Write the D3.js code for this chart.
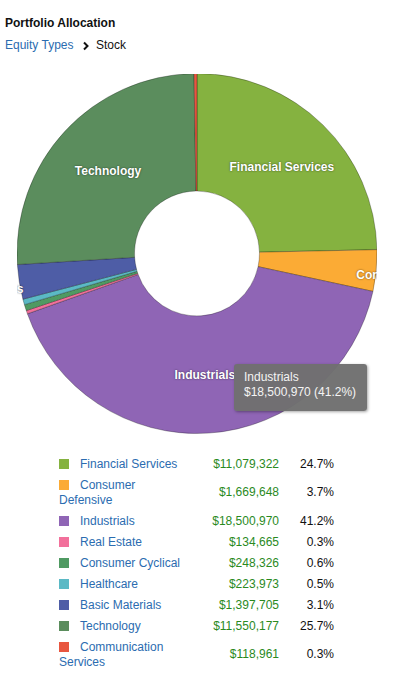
<!DOCTYPE html>
<html>
<head>
<meta charset="utf-8">
<script src="https://cdn.jsdelivr.net/npm/d3@7"></script>
<style>
  html, body { margin: 0; padding: 0; background: #fff; }
  body { width: 394px; height: 689px; position: relative; overflow: hidden;
         font-family: "Liberation Sans", Arial, Helvetica, sans-serif; font-size: 12px; color: #222; }
  #title { position: absolute; left: 5px; top: 15.5px; font-weight: bold; line-height: 14px; color: #111; }
  #crumb { position: absolute; left: 5px; top: 37.5px; line-height: 14px; white-space: nowrap; }
  #crumb .link { color: #2b6cb0; }
  #crumb svg { position: absolute; left: 77px; top: 3px; }
  #crumb .cur { position: absolute; left: 91px; top: 0; color: #111; }
  #chart { position: absolute; left: 17px; top: 74px; }
  #tip { position: absolute; left: 234px; top: 364px; width: 133px; height: 47px; box-sizing: border-box;
         padding: 6px 10px; background: rgba(112,112,112,0.97); color: #f4f4f4; border-radius: 3px;
         line-height: 15px; box-shadow: 1px 1px 3px rgba(0,0,0,0.35); white-space: nowrap; }
  #legend { position: absolute; left: 59px; top: 453.5px; border-collapse: collapse; table-layout: fixed; }
  #legend td { padding: 3px 0; line-height: 15px; vertical-align: middle; }
  #legend td.name { width: 124px; color: #2b6cb0; }
  #legend td.val { width: 96px; text-align: right; color: #2a8a1e; }
  #legend td.pct { width: 55px; text-align: right; color: #111; }
  #legend .sw { display: inline-block; width: 10px; height: 10px; margin-right: 11px; vertical-align: -1px; }
</style>
</head>
<body>
<div id="title">Portfolio Allocation</div>
<div id="crumb"><span class="link">Equity Types</span>
  <svg width="8" height="10"><polyline points="2,1.5 5.5,5 2,8.5" fill="none" stroke="#111" stroke-width="2"/></svg>
  <span class="cur">Stock</span></div>
<svg id="chart" width="360" height="360"></svg>
<div id="tip"></div>
<table id="legend"><tbody></tbody></table>
<script>
const categories = ["Financial Services", "Consumer Defensive", "Industrials", "Real Estate",
  "Consumer Cyclical", "Healthcare", "Basic Materials", "Technology", "Communication Services"];
const values = [11079322, 1669648, 18500970, 134665, 248326, 223973, 1397705, 11550177, 118961];
const colors = ["#85b240", "#fbab35", "#8f65b5", "#f2709b", "#4f9a62", "#5bb9c5", "#4e5da6", "#5b8d5d", "#e8563f"];
const hovered = "Industrials";

const total = d3.sum(values);
const data = categories.map((c, i) => ({ name: c, value: values[i], color: colors[i], share: values[i] / total }));
const money = v => "$" + d3.format(",")(v);
const pct = s => d3.format(".1%")(s);

const W = 360, H = 360, R = 180, r0 = 62.5;
const svg = d3.select("#chart");
const g = svg.append("g").attr("transform", `translate(${W / 2},${H / 2 - 0.5})`);

const pie = d3.pie().sort(null).value(d => d.value);
const arc = d3.arc().innerRadius(r0).outerRadius(R);
const outerLabelArc = d3.arc().innerRadius(220).outerRadius(220);
const arcs = pie(data);

g.selectAll("path").data(arcs).join("path")
  .attr("d", arc)
  .attr("fill", d => d.data.color)
  .attr("stroke", "rgba(0,0,0,0.35)")
  .attr("stroke-width", 0.8)
  .attr("stroke-linejoin", "round");

g.selectAll("text").data(arcs.filter(d => d.data.share >= 0.01)).join("text")
  .attr("transform", d => `translate(${(d.data.share >= 0.1 ? arc : outerLabelArc).centroid(d)})`)
  .attr("text-anchor", "middle")
  .attr("dy", "0.35em")
  .attr("fill", "#fff")
  .style("font-weight", "bold")
  .style("font-size", "12px")
  .style("font-family", "'Liberation Sans', Arial, sans-serif")
  .style("text-shadow", "0 0 2px rgba(0,0,0,0.6)")
  .text(d => d.data.name);

const hd = data.find(d => d.name === hovered);
d3.select("#tip").html(`${hd.name}<br>${money(hd.value)} (${pct(hd.share)})`);

const rows = d3.select("#legend tbody").selectAll("tr").data(data).join("tr");
rows.append("td").attr("class", "name")
  .html(d => `<span class="sw" style="background:${d.color}"></span>${d.name}`);
rows.append("td").attr("class", "val").text(d => money(d.value));
rows.append("td").attr("class", "pct").text(d => pct(d.share));
</script>
</body>
</html>
